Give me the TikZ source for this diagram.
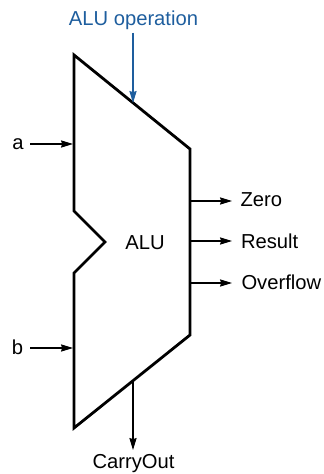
\documentclass[tikz,border=0pt]{standalone}
\usepackage{fontspec}
\setmainfont{Liberation Sans}
\usetikzlibrary{arrows.meta}
\definecolor{opblue}{HTML}{1E5E9E}
\begin{document}
\begin{tikzpicture}[x=0.5pt,y=-0.5pt,
  every node/.style={inner sep=0pt,outer sep=0pt,font=\fontsize{10.1pt}{12pt}\selectfont},
  alubody/.style={line width=1.4pt,line join=miter},
  sig/.style={line width=0.6pt,-{Stealth[length=6pt,width=3.6pt,inset=0.6pt]}},
  lbl/.style={anchor=base}]
\useasboundingbox (0,0) rectangle (323,474);
% ALU body
\draw[alubody] (74,55) -- (190,149) -- (190,335) -- (74,428) -- (74,273) -- (105,242) -- (74,211) -- cycle;
% connector end points
\coordinate (opstart) at (133,33);
\coordinate (topin) at (133,103);
\coordinate (botout) at (133,381);
\coordinate (coend) at (133,450);
\coordinate (astart) at (30,144);
\coordinate (ain) at (73,144);
\coordinate (bstart) at (30,348);
\coordinate (bin) at (73,348);
\coordinate (zo) at (191,201);
\coordinate (zend) at (232,201);
\coordinate (ro) at (191,241);
\coordinate (rend) at (232,241);
\coordinate (oo) at (191,283);
\coordinate (oend) at (232,283);
% labels
\node[lbl,text=opblue] (op) at (133.5,26) {ALU operation};
\node[lbl] (alu) at (145,250) {ALU};
\node[lbl] (a) at (18,150) {a};
\node[lbl] (b) at (17.5,354) {b};
\node[lbl,anchor=base west] (zero) at (240.5,207) {Zero};
\node[lbl,anchor=base west] (res) at (241,248.5) {Result};
\node[lbl,anchor=base west] (ovf) at (241.5,289.5) {Overflow};
\node[lbl] (co) at (133.5,468.5) {CarryOut};
% connectors
\draw[sig,draw=opblue,fill=opblue] (opstart) -- (topin);
\draw[sig] (astart) -- (ain);
\draw[sig] (bstart) -- (bin);
\draw[sig] (zo) -- (zend);
\draw[sig] (ro) -- (rend);
\draw[sig] (oo) -- (oend);
\draw[sig] (botout) -- (coend);
\end{tikzpicture}
\end{document}
